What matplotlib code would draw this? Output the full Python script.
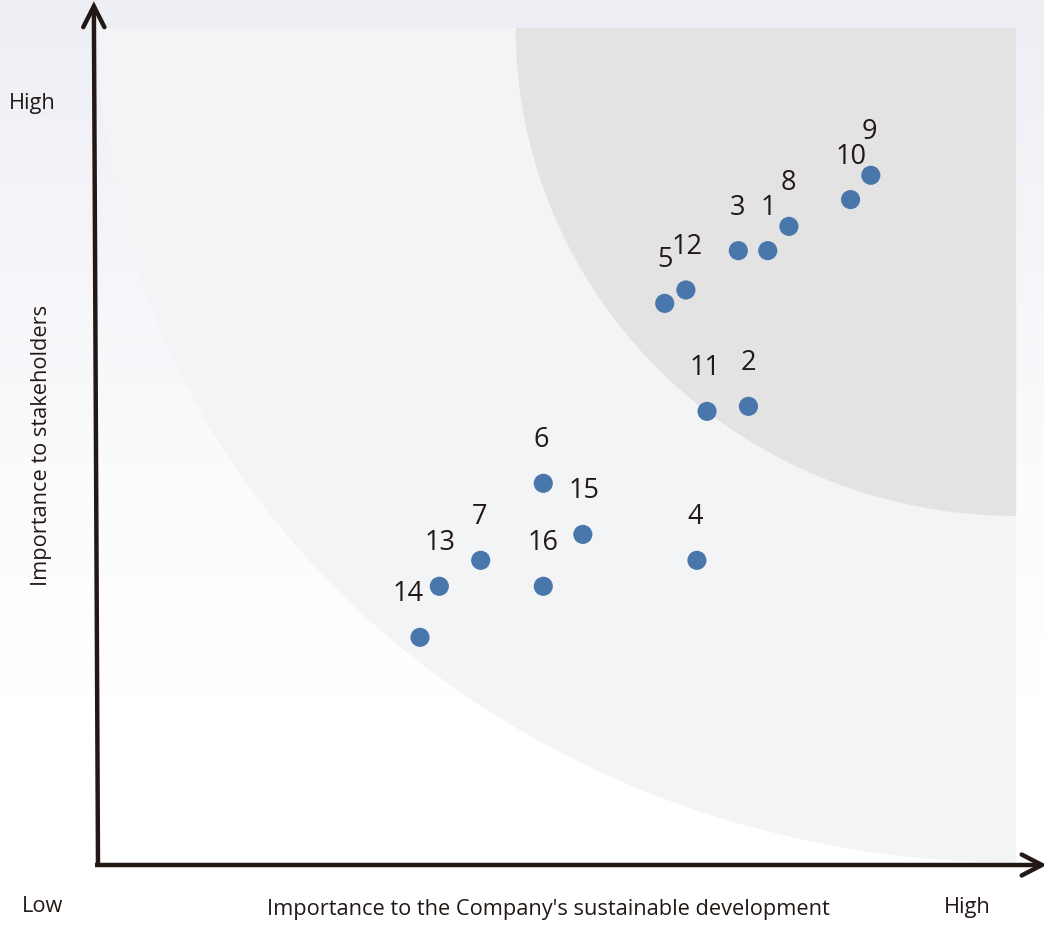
import numpy as np
import matplotlib
matplotlib.use("Agg")
import matplotlib.pyplot as plt
from matplotlib.patches import Polygon
from matplotlib.colors import LinearSegmentedColormap

plt.rcParams['font.family'] = ['Open Sans', 'DejaVu Sans']

# ---- data (0-10 scale on both axes) ----
labels = ["1", "2", "3", "4", "5", "6", "7", "8", "9", "10", "11", "12", "13", "14", "15", "16"]
company = [7.28, 7.07, 6.96, 6.51, 6.16, 4.84, 4.16, 7.51, 8.40, 8.18, 6.62, 6.39, 3.71, 3.50, 5.27, 4.84]
stakeholders = [7.34, 5.48, 7.34, 3.64, 6.71, 4.56, 3.64, 7.63, 8.24, 7.95, 5.42, 6.87, 3.33, 2.72, 3.95, 3.33]
label_dx = [1, 0, -1, -2, 0, -2, -1, -1, -1, 1, -2, 1, 1, -12, 1, 0]  # pixel nudges

W, H = 1044, 926
fig = plt.figure(figsize=(W / 100, H / 100), dpi=100)

# background gradient
bg = fig.add_axes([0, 0, 1, 1], zorder=-10)
grad = np.linspace(0, 1, 256).reshape(-1, 1)
cmap = LinearSegmentedColormap.from_list("bg", ["#edeff5", "#f5f4f9", "#fbfbfd", "#ffffff", "#ffffff"])
bg.imshow(grad, aspect="auto", cmap=cmap, extent=[0, 1, 0, 1], origin="upper")
bg.set_axis_off()

# main axes: x 98..1018 px, y 865..28 px
x0, x1 = 98, 1018
y0, y1 = 865, 28
ax = fig.add_axes([x0 / W, (H - y0) / H, (x1 - x0) / W, (y0 - y1) / H])
ax.set_xlim(0, 10)
ax.set_ylim(0, 10)
ax.set_axis_off()
ax.patch.set_alpha(0)

# light quarter-ellipse region centred at top-right corner
t = np.linspace(np.pi, 1.5 * np.pi, 200)
cx, cy = 9.98, 10.0
rx, ry = 9.98, 9.97
pts = [(cx, cy)] + list(zip(cx + rx * np.cos(t), cy + ry * np.sin(t)))
ax.add_patch(Polygon(pts, closed=True, facecolor="#f3f4f6", edgecolor="none", zorder=1))

# dark quarter-ellipse region
rx2, ry2 = 5.44, 5.83
pts2 = [(cx, cy)] + list(zip(cx + rx2 * np.cos(t), cy + ry2 * np.sin(t)))
ax.add_patch(Polygon(pts2, closed=True, facecolor="#e3e3e3", edgecolor="none", zorder=2))

# points
ax.scatter(company, stakeholders, s=190, color="#4a77ab", edgecolors="none", zorder=5, clip_on=False)
for lab, xv, yv, dx in zip(labels, company, stakeholders, label_dx):
    ax.annotate(lab, (xv, yv), xytext=(dx * 0.72, 31), textcoords="offset points",
                ha="center", va="center", fontsize=19.5, color="#231815", zorder=6)

# axes arrows
axcol = "#231815"
lw = 3.2
ytip = (-0.045, 10.26)
ax.plot([0, ytip[0]], [-0.02, ytip[1] - 0.02], color=axcol, lw=lw, solid_capstyle="butt", clip_on=False, zorder=7)
ax.plot([-0.03, 10.25], [0, 0], color=axcol, lw=lw, solid_capstyle="butt", clip_on=False, zorder=7)
# chevron heads
ax.plot([ytip[0] - 0.115, ytip[0], ytip[0] + 0.115], [ytip[1] - 0.25, ytip[1], ytip[1] - 0.25],
        color=axcol, lw=lw, clip_on=False, zorder=7, solid_joinstyle="miter", solid_capstyle="round")
ax.plot([10.04, 10.26, 10.04], [0.125, 0, -0.125], color=axcol, lw=lw, clip_on=False, zorder=7,
        solid_joinstyle="miter", solid_capstyle="round")

# texts
def ftext(px, py, s, **kw):
    fig.text(px / W, 1 - py / H, s, ha="center", va="center", color=axcol, fontsize=15.7, **kw)

ftext(32, 104, "High")
ftext(43, 907, "Low")
ftext(967, 907, "High")
ftext(548, 909, "Importance to the Company's sustainable development")
ftext(42, 445, "Importance to stakeholders", rotation=90)

fig.savefig("out.png", dpi=100)
